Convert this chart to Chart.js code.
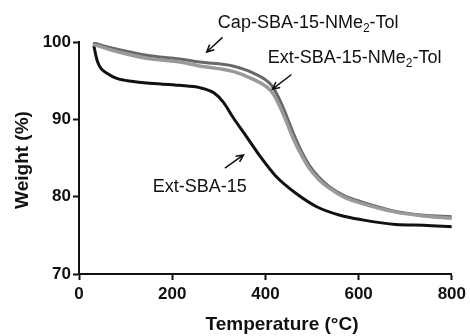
<!DOCTYPE html>
<html>
<head>
<meta charset="utf-8">
<script src="https://cdn.jsdelivr.net/npm/chart.js@4"></script>
<style>
  html, body { margin: 0; padding: 0; background: #fff; }
  #wrap { width: 470px; height: 336px; }
</style>
</head>
<body>
<div id="wrap"><canvas id="tga"></canvas></div>
<script>
// TGA data (temperature in °C, weight in %)
const extTemps = [32, 36, 40, 47, 59, 81, 116, 145, 216, 259, 290, 310, 330, 359, 390, 423, 466, 510, 560, 608, 680, 740, 800];
const extWeights = [99.5, 98.3, 97.4, 96.6, 96.0, 95.3, 94.9, 94.7, 94.4, 94.1, 93.4, 92.2, 90.3, 87.8, 85.1, 82.6, 80.4, 78.7, 77.6, 77.0, 76.4, 76.3, 76.1];

const capTemps = [30, 73, 145, 216, 259, 330, 373, 413, 430, 445, 460, 478, 495, 515, 537, 570, 608, 680, 740, 800];
const capWeights = [99.9, 99.2, 98.3, 97.8, 97.4, 96.9, 96.0, 94.4, 92.6, 90.5, 88.2, 85.8, 84.0, 82.5, 81.3, 80.1, 79.3, 78.1, 77.6, 77.4];

const extTolTemps = [30, 73, 145, 216, 259, 330, 373, 413, 430, 445, 460, 478, 495, 515, 537, 570, 608, 680, 740, 800];
const extTolWeights = [99.7, 98.9, 97.9, 97.4, 96.9, 96.2, 95.2, 93.6, 91.8, 89.7, 87.5, 85.3, 83.6, 82.2, 81.1, 79.9, 79.1, 78.0, 77.5, 77.2];

const xTicks = [0, 200, 400, 600, 800];
const yTicks = [70, 80, 90, 100];

function toPoints(xs, ys) {
    return xs.map((x, i) => ({ x: x, y: ys[i] }));
}

// labels with subscript parts: [text, isSub]
function drawRich(ctx, parts, x, y, size) {
    let cx = x;
    parts.forEach(p => {
        const sub = p[1];
        ctx.font = (sub ? Math.round(size * 0.65) : size) + 'px "Liberation Sans", Arial, sans-serif';
        ctx.fillText(p[0], cx, sub ? y + size * 0.28 : y);
        cx += ctx.measureText(p[0]).width;
    });
}

function arrow(ctx, x1, y1, x2, y2) {
    const ang = Math.atan2(y2 - y1, x2 - x1);
    const h = 8;
    ctx.beginPath();
    ctx.moveTo(x1, y1);
    ctx.lineTo(x2, y2);
    ctx.moveTo(x2 - h * Math.cos(ang - 0.45), y2 - h * Math.sin(ang - 0.45));
    ctx.lineTo(x2, y2);
    ctx.lineTo(x2 - h * Math.cos(ang + 0.45), y2 - h * Math.sin(ang + 0.45));
    ctx.stroke();
}

const annotations = {
    id: 'annotations',
    afterDraw(chart) {
        const ctx = chart.ctx;
        const xs = chart.scales.x;
        const ys = chart.scales.y;
        const px = v => xs.getPixelForValue(v);
        const py = v => ys.getPixelForValue(v);
        ctx.save();
        ctx.fillStyle = '#111';
        ctx.strokeStyle = '#111';
        ctx.lineWidth = 1.5;
        ctx.textBaseline = 'middle';
        ctx.textAlign = 'left';

        drawRich(ctx, [['Cap-SBA-15-NMe', false], ['2', true], ['-Tol', false]], px(298), py(102.4), 18);
        arrow(ctx, px(308), py(100.6), px(274), py(98.7));

        drawRich(ctx, [['Ext-SBA-15-NMe', false], ['2', true], ['-Tol', false]], px(405), py(97.9), 18);
        arrow(ctx, px(456), py(95.8), px(415), py(93.9));

        drawRich(ctx, [['Ext-SBA-15', false]], px(158), py(81.3), 18);
        arrow(ctx, px(313), py(83.7), px(353), py(85.4));

        // axis titles
        ctx.font = 'bold 19px "Liberation Sans", Arial, sans-serif';
        ctx.textAlign = 'center';
        ctx.fillText('Temperature (°C)', 282, 325);
        ctx.translate(23, 160);
        ctx.rotate(-Math.PI / 2);
        ctx.fillText('Weight (%)', 0, 0);
        ctx.restore();
    }
};

const tickFont = { family: '"Liberation Sans", Arial, sans-serif', size: 17, weight: 'bold' };

new Chart(document.getElementById('tga'), {
    type: 'line',
    data: {
        datasets: [
            {
                label: 'Ext-SBA-15-NMe2-Tol',
                data: toPoints(extTolTemps, extTolWeights),
                borderColor: '#9a9a9a',
                borderWidth: 3.5,
                pointRadius: 0,
                cubicInterpolationMode: 'monotone'
            },
            {
                label: 'Cap-SBA-15-NMe2-Tol',
                data: toPoints(capTemps, capWeights),
                borderColor: '#686868',
                borderWidth: 3,
                pointRadius: 0,
                cubicInterpolationMode: 'monotone'
            },
            {
                label: 'Ext-SBA-15',
                data: toPoints(extTemps, extWeights),
                borderColor: '#111111',
                borderWidth: 3,
                pointRadius: 0,
                cubicInterpolationMode: 'monotone'
            }
        ]
    },
    options: {
        responsive: true,
        maintainAspectRatio: false,
        animation: false,
        layout: { padding: { top: 42, right: 17, left: 0, bottom: 0 } },
        plugins: {
            legend: { display: false },
            tooltip: { enabled: false }
        },
        scales: {
            x: {
                type: 'linear',
                min: 0,
                max: 800,
                afterFit: s => { s.height = 62; },
                afterBuildTicks: s => { s.ticks = xTicks.map(v => ({ value: v })); },
                border: { color: '#111', width: 2 },
                grid: { drawOnChartArea: false, color: '#111', tickLength: 6, tickWidth: 2 },
                ticks: { color: '#111', font: tickFont, padding: 4, maxRotation: 0 }
            },
            y: {
                min: 70,
                max: 100,
                afterFit: s => { s.width = 79; },
                afterBuildTicks: s => { s.ticks = yTicks.map(v => ({ value: v })); },
                border: { color: '#111', width: 2 },
                grid: { drawOnChartArea: false, color: '#111', tickLength: 6, tickWidth: 2 },
                ticks: { color: '#111', font: tickFont, padding: 2 }
            }
        }
    },
    plugins: [annotations]
});
</script>
</body>
</html>
